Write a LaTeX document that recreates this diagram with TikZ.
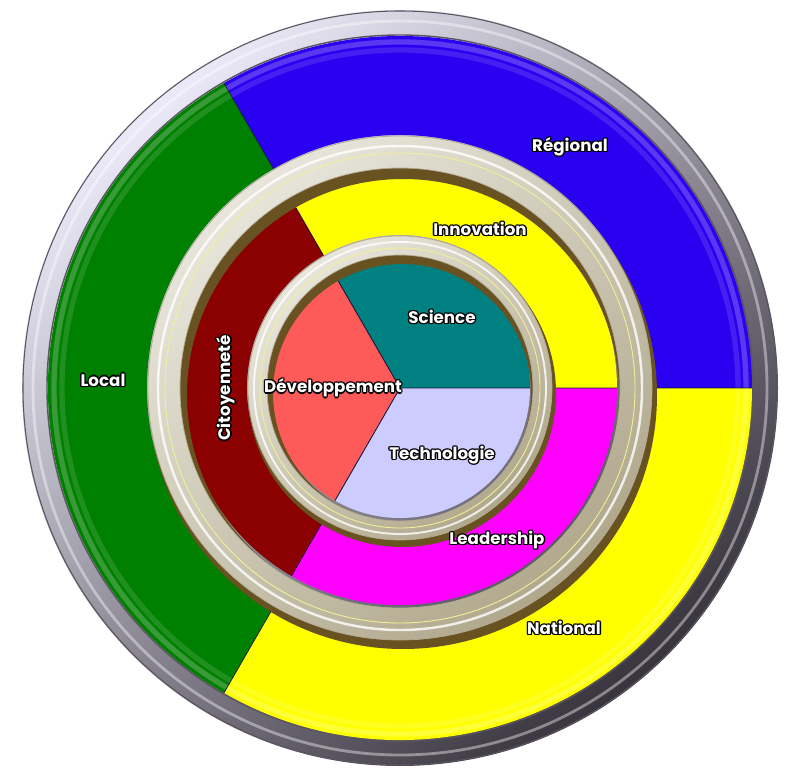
\documentclass[tikz,border=0pt]{standalone}
\usepackage{fontspec}
\setmainfont{Poppins}
\usepackage{tikz}

\definecolor{regcol}{RGB}{42,0,240}
\definecolor{loccol}{RGB}{0,128,0}
\definecolor{natcol}{RGB}{255,255,0}
\definecolor{inncol}{RGB}{255,255,0}
\definecolor{citcol}{RGB}{139,0,0}
\definecolor{leacol}{RGB}{255,0,255}
\definecolor{scicol}{RGB}{0,128,128}
\definecolor{devcol}{RGB}{255,90,90}
\definecolor{teccol}{RGB}{204,204,255}
\definecolor{rimlight}{RGB}{236,234,248}
\definecolor{rimdark}{RGB}{56,52,62}
\definecolor{rimedge}{RGB}{90,85,96}
\definecolor{ringshadow}{RGB}{104,82,34}
\definecolor{ringlight}{RGB}{232,230,220}
\definecolor{ringmid}{RGB}{176,168,140}
\definecolor{ringyel}{RGB}{242,240,150}
\definecolor{slice}{RGB}{20,20,60}

\newlength\halow
\setlength\halow{0.75pt}
\newcommand\halo[1]{{\color{black}\foreach \dx/\dy in {1/0,-1/0,0/1,0/-1,.7/.7,-.7/.7,.7/-.7,-.7/-.7}{\rlap{\kern\dx\halow\raisebox{\dy\halow}{#1}}}}#1}

\begin{document}
\begin{tikzpicture}[scale=0.02]
        \tikzstyle{every node}+=[inner sep=0pt, text=white, font=\fontsize{9.5}{11}\selectfont\bfseries]
        \useasboundingbox (-400,-392) rectangle (400,388);
        % outer rim
        \shade[top color=rimlight, bottom color=rimdark, shading angle=40] (0,0) circle (378);
        \draw[rimedge, line width=.6pt] (0,0) circle (377);
        \draw[white, opacity=.4, line width=1.6pt] (0,0) circle (367);
        \draw[rimedge, line width=.8pt] (0,0) circle (353);
        % outer band
        \fill[regcol] (0:352) arc (0:120:352) -- (120:253) arc (120:0:253) -- cycle;
        \fill[loccol] (120:352) arc (120:240:352) -- (240:253) arc (240:120:253) -- cycle;
        \fill[natcol] (240:352) arc (240:360:352) -- (360:253) arc (360:240:253) -- cycle;
        \draw[white, opacity=.22, line width=3pt] (0,0) circle (346);
        \draw[white, opacity=.12, line width=3pt] (0,0) circle (338);
        \draw[slice, line width=.4pt] (0:253) -- (0:352) (120:253) -- (120:352) (240:253) -- (240:352);
        % middle band
        \fill[inncol] (0:217) arc (0:120:217) -- (120:153) arc (120:0:153) -- cycle;
        \fill[citcol] (120:217) arc (120:240:217) -- (240:153) arc (240:120:153) -- cycle;
        \fill[leacol] (240:217) arc (240:360:217) -- (360:153) arc (360:240:153) -- cycle;
        \draw[slice, line width=.4pt] (0:153) -- (0:217) (120:153) -- (120:217) (240:153) -- (240:217);
        % pie
        \fill[scicol] (0,0) -- (0:130) arc (0:120:130) -- cycle;
        \fill[devcol] (0,0) -- (120:130) arc (120:240:130) -- cycle;
        \fill[teccol] (0,0) -- (240:130) arc (240:360:130) -- cycle;
        \draw[slice, line width=.5pt] (0:130) -- (0,0) -- (120:130) (0,0) -- (240:130);
        % middle ring
        \fill[ringshadow, even odd rule] (3,-7) circle (254) (3,-7) circle (216);
        \shade[even odd rule, top color=ringlight, bottom color=ringmid, shading angle=40] (0,0) circle (252) (0,0) circle (220);
        \draw[white, opacity=.8, line width=1.4pt] (0,0) circle (242);
        \draw[ringyel, line width=.5pt] (0,0) circle (235);
        \draw[ringshadow!50, line width=.4pt] (0,0) circle (252) (0,0) circle (220);
        % inner ring
        \fill[ringshadow, even odd rule] (2,-5) circle (154) (2,-5) circle (129);
        \shade[even odd rule, top color=ringlight, bottom color=ringmid, shading angle=40] (0,0) circle (152) (0,0) circle (133);
        \draw[white, opacity=.8, line width=1.1pt] (0,0) circle (146);
        \draw[ringyel, line width=.5pt] (0,0) circle (140);
        \draw[ringshadow!50, line width=.4pt] (0,0) circle (152) (0,0) circle (133);
        % labels
        \node (regional) at (170,241) {\halo{Régional}};
        \node (local) at (-297,8) {\halo{Local}};
        \node (national) at (164,-240) {\halo{National}};
        \node (innovation) at (80,159) {\halo{Innovation}};
        \node[rotate=90] (citoyennete) at (-174,0) {\halo{Citoyenneté}};
        \node (leadership) at (97,-152) {\halo{Leadership}};
        \node (science) at (42,71) {\halo{Science}};
        \node (developpement) at (-67,0) {\halo{Développement}};
        \node (technologie) at (42,-67) {\halo{Technologie}};
\end{tikzpicture}
\end{document}
